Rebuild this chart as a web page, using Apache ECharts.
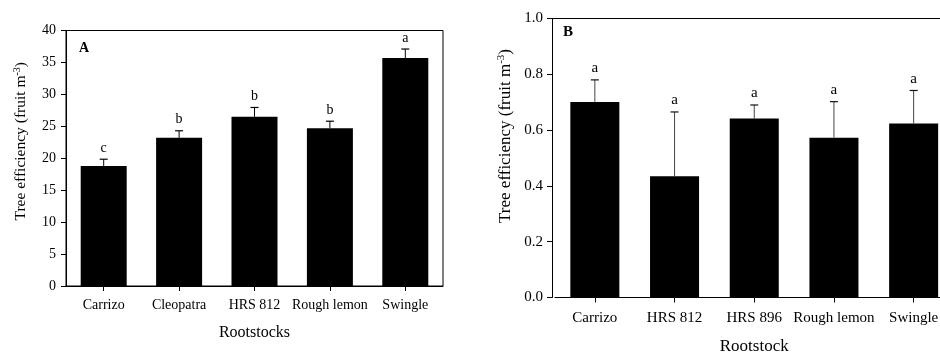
<!DOCTYPE html>
<html>
<head>
<meta charset="utf-8">
<script src="https://cdn.jsdelivr.net/npm/echarts@6/dist/echarts.min.js"></script>
<style>
html,body{margin:0;padding:0;background:#fff;}
#chart{width:940px;height:353px;}
</style>
</head>
<body>
<div id="chart"></div>
<script>
// Panel A data
const catsA = ['Carrizo', 'Cleopatra', 'HRS 812', 'Rough lemon', 'Swingle'];
const valsA = [18.8, 23.2, 26.5, 24.7, 35.7];
const errsA = [1.05, 1.1, 1.45, 1.1, 1.4];
const lettersA = ['c', 'b', 'b', 'b', 'a'];
const ticksA = { min: 0, max: 40, interval: 5 };

// Panel B data
const catsB = ['Carrizo', 'HRS 812', 'HRS 896', 'Rough lemon', 'Swingle'];
const valsB = [0.701, 0.435, 0.642, 0.573, 0.624];
const errsB = [0.079, 0.23, 0.048, 0.129, 0.118];
const lettersB = ['a', 'a', 'a', 'a', 'a'];
const ticksB = { min: 0, max: 1.0, interval: 0.2 };

const FONT = 'Liberation Serif';

function errSeries(idx, vals, errs, letters, lineColor, capColor, fs) {
  return {
    type: 'custom',
    xAxisIndex: idx, yAxisIndex: idx,
    data: vals.map((v, i) => [i, v, errs[i]]),
    silent: true,
    z: 5,
    renderItem: function (params, api) {
      const x = api.value(0), y = api.value(1), e = api.value(2);
      const p0 = api.coord([x, y]);
      const p1 = api.coord([x, y + e]);
      const half = 4;
      return {
        type: 'group',
        children: [
          { type: 'line', shape: { x1: p0[0], y1: p0[1], x2: p1[0], y2: p1[1] },
            style: { stroke: lineColor, lineWidth: 1 } },
          { type: 'line', shape: { x1: p1[0] - half, y1: p1[1], x2: p1[0] + half, y2: p1[1] },
            style: { stroke: capColor, lineWidth: 1.2 } },
          { type: 'text', x: p1[0], y: p1[1] - 4,
            style: { text: letters[params.dataIndex], fontFamily: FONT, fontSize: fs,
                     fill: '#000', align: 'center', verticalAlign: 'bottom' } }
        ]
      };
    }
  };
}

const chart = echarts.init(document.getElementById('chart'), null, { renderer: 'canvas' });

const option = {
  backgroundColor: '#fff',
  animation: false,
  title: [
    { text: 'A', left: 74, top: 36, textStyle: { fontFamily: FONT, fontSize: 14, fontWeight: 'bold', color: '#000' } },
    { text: 'B', left: 558, top: 20, textStyle: { fontFamily: FONT, fontSize: 15, fontWeight: 'bold', color: '#000' } }
  ],
  graphic: [
    { type: 'line', shape: { x1: 552, y1: 18.5, x2: 940, y2: 18.5 }, style: { stroke: '#000', lineWidth: 1 } }
  ],
  grid: [
    { left: 66, top: 30.5, width: 377, height: 255.5, show: true, borderColor: '#000', borderWidth: 1,
      containLabel: false, outerBoundsMode: 'none' },
    { left: 555, top: 18.5, width: 398.5, height: 279, show: false,
      containLabel: false, outerBoundsMode: 'none' }
  ],
  xAxis: [
    {
      type: 'category', gridIndex: 0, data: catsA,
      name: 'Rootstocks', nameLocation: 'middle', nameGap: 39,
      nameTextStyle: { fontFamily: FONT, fontSize: 16, color: '#000' },
      axisLine: { show: true, lineStyle: { color: '#000', width: 1 } },
      axisTick: { show: true, alignWithLabel: true, length: 5, lineStyle: { color: '#000' } },
      axisLabel: { fontFamily: FONT, fontSize: 14, color: '#000', margin: 12, interval: 0 },
      splitLine: { show: false }
    },
    {
      type: 'category', gridIndex: 1, data: catsB,
      name: 'Rootstock', nameLocation: 'middle', nameGap: 41,
      nameTextStyle: { fontFamily: FONT, fontSize: 17, color: '#000' },
      axisLine: { show: true, lineStyle: { color: '#000', width: 1 } },
      axisTick: { show: true, alignWithLabel: true, length: 5, lineStyle: { color: '#000' } },
      axisLabel: { fontFamily: FONT, fontSize: 15, color: '#000', margin: 13, interval: 0 },
      splitLine: { show: false }
    }
  ],
  yAxis: [
    {
      type: 'value', gridIndex: 0, min: ticksA.min, max: ticksA.max, interval: ticksA.interval,
      name: 'Tree efficiency (fruit m{s|-3})', nameLocation: 'middle', nameGap: 36,
      nameTextStyle: { fontFamily: FONT, fontSize: 15.5, color: '#000', padding: [0, 0, 0, 34],
        rich: { s: { fontFamily: FONT, fontSize: 10, color: '#000', verticalAlign: 'top', padding: [0, 0, 8, 0] } } },
      axisLine: { show: true, lineStyle: { color: '#000', width: 1 } },
      axisTick: { show: true, length: 5, lineStyle: { color: '#000' } },
      axisLabel: { fontFamily: FONT, fontSize: 14, color: '#000', margin: 10 },
      splitLine: { show: false }
    },
    {
      type: 'value', gridIndex: 1, min: ticksB.min, max: ticksB.max, interval: ticksB.interval,
      offset: 3,
      name: 'Tree efficiency (fruit m{s|-3})', nameLocation: 'middle', nameGap: 37,
      nameTextStyle: { fontFamily: FONT, fontSize: 17, color: '#000', padding: [0, 0, 0, 44],
        rich: { s: { fontFamily: FONT, fontSize: 11, color: '#000', verticalAlign: 'top', padding: [0, 0, 8, 0] } } },
      axisLine: { show: true, lineStyle: { color: '#000', width: 1 } },
      axisTick: { show: true, length: 5, lineStyle: { color: '#000' } },
      axisLabel: { fontFamily: FONT, fontSize: 15, color: '#000', margin: 9,
        formatter: v => v.toFixed(1) },
      splitLine: { show: false }
    }
  ],
  series: [
    { type: 'bar', xAxisIndex: 0, yAxisIndex: 0, data: valsA, barCategoryGap: '39%',
      itemStyle: { color: '#000' } },
    errSeries(0, valsA, errsA, lettersA, '#000', '#000', 14),
    { type: 'bar', xAxisIndex: 1, yAxisIndex: 1, data: valsB, barCategoryGap: '38.5%',
      itemStyle: { color: '#000' } },
    errSeries(1, valsB, errsB, lettersB, '#444', '#111', 15)
  ]
};
chart.setOption(option);
</script>
</body>
</html>
